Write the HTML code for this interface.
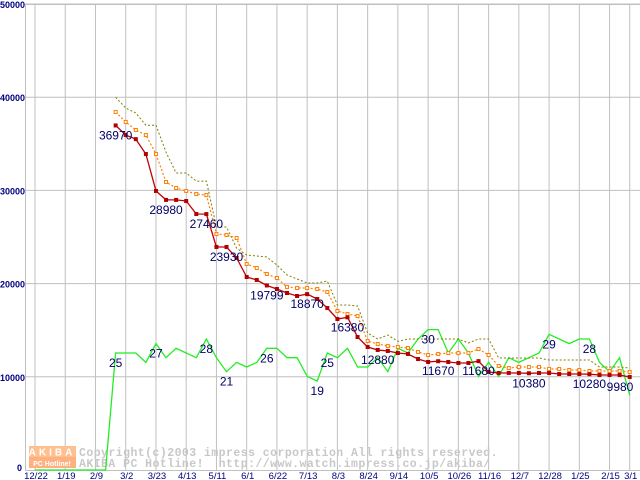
<!DOCTYPE html>
<html><head><meta charset="utf-8"><style>
html,body{margin:0;padding:0;background:#fff;}
svg{display:block;}
</style></head><body>
<svg id="chart" width="640" height="480" xmlns="http://www.w3.org/2000/svg" font-family="Liberation Sans, sans-serif">
<rect x="0" y="0" width="640" height="480" fill="#fff"/>
<g id="grid"></g>
<g id="wm">
  <rect x="29" y="446" width="47" height="11" fill="#ffc090"/>
  <rect x="29" y="457" width="47" height="11" fill="#ffb080"/>
  <text x="52" y="455.5" text-anchor="middle" font-size="10" font-weight="bold" fill="#fff" letter-spacing="3">AKIBA</text>
  <text x="52" y="466" text-anchor="middle" font-size="7" font-weight="bold" fill="#fff">PC Hotline!</text>
  <text x="79" y="456" font-family="Liberation Mono, monospace" font-size="11.5" font-weight="bold" fill="#c8c8c8" letter-spacing="0.45" style="white-space:pre">Copyright(c)2003 impress corporation All rights reserved.</text>
  <text x="79" y="467" font-family="Liberation Mono, monospace" font-size="11.5" font-weight="bold" fill="#c8c8c8" letter-spacing="0.45" style="white-space:pre">AKIBA PC Hotline!  http://www.watch.impress.co.jp/akiba/</text>
</g>
<g id="series"></g>
<g id="labels"></g>
</svg>
<script>
const categories = ["12/22","1/19","2/9","3/2","3/23","4/13","5/11","6/1","6/22","7/13","8/3","8/24","9/14","10/5","10/26","11/16","12/7","12/28","1/25","2/15","3/1"];
const categoryIndex = [0,3,6,9,12,15,18,21,24,27,30,33,36,39,42,45,48,51,54,57,59];
const yTicks = [0,10000,20000,30000,40000,50000];
const priceMin = [null,null,null,null,null,null,null,null,36970,35940,35500,33900,29940,28980,28980,28860,27470,27460,23930,23930,22750,20710,20390,19799,19420,18990,18670,18870,18350,17380,16200,16380,14270,13200,12880,12770,12550,12450,11910,11590,11670,11590,11480,11480,11680,10520,10410,10410,10410,10380,10410,10410,10300,10300,10300,10280,10190,10190,10190,9980];
const priceAvg = [null,null,null,null,null,null,null,null,38410,37340,36480,35940,33900,30900,30260,29940,29610,29500,25320,25210,24890,22100,21670,21030,20600,19640,19530,19530,19420,19100,17060,16740,16520,13840,13520,13300,13200,13090,12660,12340,12450,12550,12550,12550,12980,12340,11160,10940,11050,11050,11050,10840,10840,10730,10730,10620,10620,10620,10620,10520];
const priceMax = [null,null,null,null,null,null,null,null,40000,38840,38300,37000,37000,34100,31870,31870,31000,31000,26070,26070,23800,23070,22960,22850,22000,20920,20490,20060,20060,20280,17700,17700,17600,14700,14060,14490,13800,14060,14060,14060,14060,14060,14060,13630,14060,14060,12020,12020,12020,12020,12020,11800,11800,11800,11800,11800,11050,11050,11050,10940];
const shopCount = [0,0,0,0,0,0,0,0,25,25,25,23,27,24,26,25,24,28,24,21,23,22,23,26,26,24,24,20,19,25,24,26,22,22,24,21,26,25,28,30,30,25,28,25,20,23,20,24,23,24,25,29,28,27,28,28,23,21,24,16];
const priceLabelIdx = [8,13,17,19,23,27,31,34,40,44,49,55,59];
const countLabelIdx = [8,12,17,19,23,28,29,39,51,55];

const NS="http://www.w3.org/2000/svg";
function xs(i){return 35+10.08*i;}
function yp(v){return 470-v*0.00932;}
function yc(v){return 470-v*4.68;}
function mk(tag,attrs,parent){const e=document.createElementNS(NS,tag);for(const k in attrs)e.setAttribute(k,attrs[k]);parent.appendChild(e);return e;}
const gridG=document.getElementById('grid'),serG=document.getElementById('series'),labG=document.getElementById('labels');

yTicks.forEach(t=>{
  const y=yp(t);
  if(t>0){const l=mk('line',{x1:25,x2:640,y1:y,y2:y,stroke:'#c0c0c0','stroke-width':1},gridG);
  
  }
  const tx=mk('text',{x:t===0?22:0,y:t===0?471:y+4,'font-size':9,'font-weight':'bold',fill:'#000080','text-anchor':t===0?'end':'start'},gridG);
  tx.textContent=String(t);
  
  
});
categoryIndex.forEach((ci,k)=>{
  const x=xs(ci);
  const l=mk('line',{x1:x,x2:x,y1:4,y2:470,stroke:'#c0c0c0','stroke-width':1},gridG);
  
  
  const tx=mk('text',{x:x+1,y:479,'font-size':9.5,fill:'#000080','text-anchor':'middle'},gridG);
  tx.textContent=categories[k];
  
  
});
const axesPath=mk('path',{d:'M25.5 4V470.5H640',fill:'none',stroke:'#c0c0c0','stroke-width':1},gridG);


const topBorder=mk('line',{x1:25,x2:640,y1:4.5,y2:4.5,stroke:'#c0c0c0'},gridG);



function poly(arr,fy){let p=[];arr.forEach((v,i)=>{if(v!==null)p.push(xs(i).toFixed(1)+','+fy(v).toFixed(1));});return p.join(' ');}

const gl=mk('polyline',{points:poly(shopCount,yc),fill:'none',stroke:'#22ee22','stroke-width':1.3},serG);


const ol=mk('polyline',{points:poly(priceMax,yp),fill:'none',stroke:'#808000','stroke-width':1,'stroke-dasharray':'2 2'},serG);


const al=mk('polyline',{points:poly(priceAvg,yp),fill:'none',stroke:'#ff8000','stroke-width':1.2,'stroke-dasharray':'2 2'},serG);


priceAvg.forEach((v,i)=>{if(v===null)return;
  const r=mk('rect',{x:xs(i)-1.5,y:yp(v)-1.5,width:3,height:3,fill:'#fff',stroke:'#ff8000','stroke-width':1},serG);
  
  
});
const rl=mk('polyline',{points:poly(priceMin,yp),fill:'none',stroke:'#c00000','stroke-width':1.3},serG);


priceMin.forEach((v,i)=>{if(v===null)return;
  const r=mk('rect',{x:xs(i)-2,y:yp(v)-2,width:4,height:4,fill:'#b00000'},serG);
  
  
});
priceLabelIdx.forEach(i=>{
  const t=mk('text',{x:Math.min(xs(i),620),y:yp(priceMin[i])+14,'font-size':12,fill:'#000066','text-anchor':'middle'},labG);
  t.textContent=String(priceMin[i]);
  
  
});
countLabelIdx.forEach(i=>{
  const t=mk('text',{x:xs(i),y:yc(shopCount[i])+14,'font-size':12,fill:'#000066','text-anchor':'middle'},labG);
  t.textContent=String(shopCount[i]);
  
  
});
</script>
</body></html>
